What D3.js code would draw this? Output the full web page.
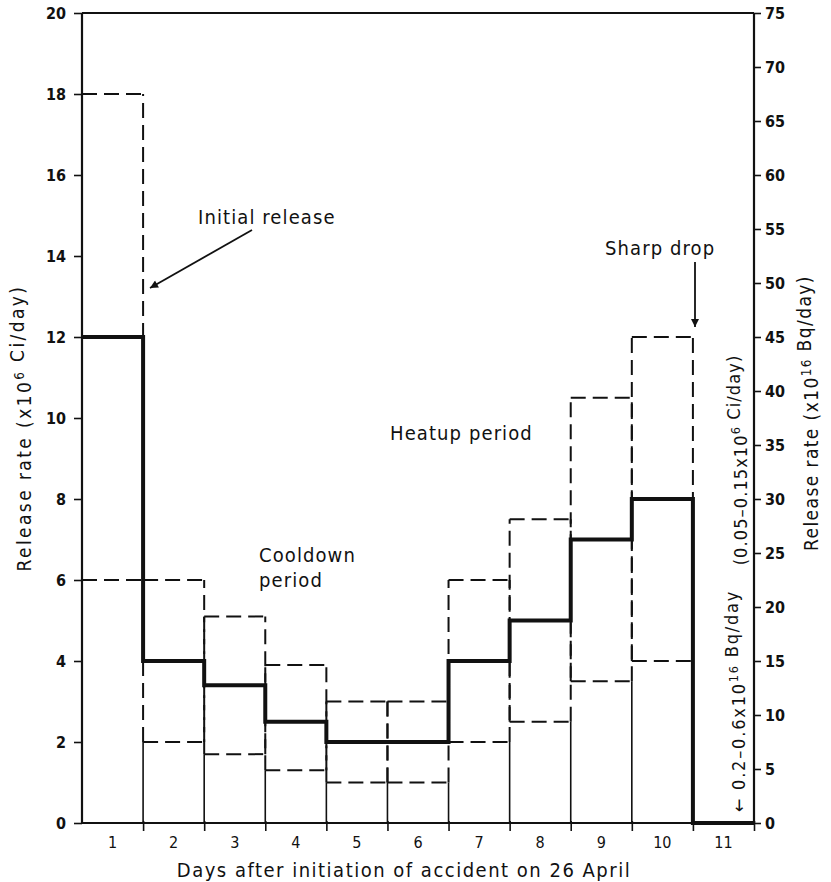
<!DOCTYPE html>
<html>
<head>
<meta charset="utf-8">
<script src="https://cdn.jsdelivr.net/npm/d3@7/dist/d3.min.js"></script>
<style>
  html, body { margin: 0; padding: 0; background: #fff; }
  svg { display: block; }
  text { font-family: "DejaVu Sans Condensed", "DejaVu Sans", sans-serif; font-stretch: condensed; fill: #111; }
</style>
</head>
<body>
<svg id="chart" width="831" height="882"></svg>
<script>
// ---- data ----
const days = [1, 2, 3, 4, 5, 6, 7, 8, 9, 10, 11];
const central = [12, 4, 3.4, 2.5, 2, 2, 4, 5, 7, 8, 0];
const upper = [18, 6, 5.1, 3.9, 3, 3, 6, 7.5, 10.5, 12, null];
const lower = [6, 2, 1.7, 1.3, 1, 1, 2, 2.5, 3.5, 4, null];
const leftTicks = [0, 2, 4, 6, 8, 10, 12, 14, 16, 18, 20];
const rightTicks = [0, 5, 10, 15, 20, 25, 30, 35, 40, 45, 50, 55, 60, 65, 70, 75];

const svg = d3.select("#chart");
const x = d3.scaleLinear().domain([0.5, 11.5]).range([82, 754]);
const yL = d3.scaleLinear().domain([0, 20]).range([823, 13]);
const yR = d3.scaleLinear().domain([0, 75]).range([823, 13]);

const ink = "#111";
const dash = "15,7";

// ---- thin solid verticals at boundaries (lower-bound bars) ----
for (let i = 1; i < days.length - 1; i++) {
  const a = lower[i - 1], b = lower[i];
  if (a == null || b == null) continue;
  const bx = x(days[i] - 0.5);
  svg.append("line").attr("x1", bx).attr("x2", bx)
    .attr("y1", yL(0)).attr("y2", yL(Math.min(a, b)))
    .attr("stroke", ink).attr("stroke-width", 1.6);
}

// ---- dashed uncertainty envelopes ----
days.forEach((d, i) => {
  if (upper[i] == null) return;
  const x0 = x(d - 0.5), x1 = x(d + 0.5);
  const g = svg.append("g").attr("fill", "none").attr("stroke", ink)
    .attr("stroke-width", 2).attr("stroke-dasharray", dash);
  g.append("line").attr("x1", x0).attr("x2", x1).attr("y1", yL(upper[i])).attr("y2", yL(upper[i]));
  g.append("line").attr("x1", x0).attr("x2", x1).attr("y1", yL(lower[i])).attr("y2", yL(lower[i]));
  if (i > 0) g.append("line").attr("x1", x0).attr("x2", x0).attr("y1", yL(lower[i])).attr("y2", yL(upper[i]));
  g.append("line").attr("x1", x1).attr("x2", x1).attr("y1", yL(lower[i])).attr("y2", yL(upper[i]));
});

// ---- central thick step line ----
const stepPts = [];
days.forEach((d, i) => {
  stepPts.push([x(d - 0.5), yL(central[i])]);
  stepPts.push([x(d + 0.5), yL(central[i])]);
});
svg.append("path").attr("d", d3.line()(stepPts))
  .attr("fill", "none").attr("stroke", ink).attr("stroke-width", 4)
  .attr("stroke-linejoin", "miter");

// ---- frame ----
const frame = svg.append("g").attr("stroke", ink).attr("stroke-width", 2.2).attr("fill", "none");
frame.append("line").attr("x1", x(0.5)).attr("x2", x(0.5)).attr("y1", yL(20)).attr("y2", yL(0));
frame.append("line").attr("x1", x(0.5)).attr("x2", x(11.5)).attr("y1", yL(20)).attr("y2", yL(20));
frame.append("line").attr("x1", x(11.5)).attr("x2", x(11.5)).attr("y1", yL(20)).attr("y2", yL(0));
frame.append("line").attr("x1", x(0.5)).attr("x2", x(11.5)).attr("y1", yL(0)).attr("y2", yL(0));

// ---- axes ----
const axL = svg.append("g").attr("transform", `translate(${x(0.5)},0)`)
  .call(d3.axisLeft(yL).tickValues(leftTicks).tickSize(8).tickPadding(8).tickFormat(d3.format("d")));
const axR = svg.append("g").attr("transform", `translate(${x(11.5)},0)`)
  .call(d3.axisRight(yR).tickValues(rightTicks).tickSize(7).tickPadding(4).tickFormat(d3.format("d")));
[axL, axR].forEach(a => {
  a.select(".domain").remove();
  a.selectAll(".tick line").attr("stroke", ink).attr("stroke-width", 1.6);
  a.selectAll(".tick text").attr("fill", ink).style("font-size", "16px").style("font-weight", "bold")
    .style("font-family", '"DejaVu Sans Condensed", "DejaVu Sans", sans-serif');
});

const bounds = days.map(d => d + 0.5);
const axB = svg.append("g").attr("transform", `translate(0,${yL(0)})`)
  .call(d3.axisBottom(x).tickValues(bounds).tickSize(8).tickFormat(""));
axB.select(".domain").remove();
axB.selectAll(".tick line").attr("stroke", ink).attr("stroke-width", 1.6).attr("y1", -2);

svg.append("g").selectAll("text").data(days).join("text")
  .attr("x", d => x(d)).attr("y", 848).attr("text-anchor", "middle")
  .style("font-size", "16px").text(d => d);

// ---- axis titles ----
svg.append("text").attr("x", 404).attr("y", 877).attr("text-anchor", "middle")
  .style("font-size", "20px").style("letter-spacing", "1.5px")
  .text("Days after initiation of accident on 26 April");

function rotLabel(cx, cy, parts, size, ls) {
  const t = svg.append("text").attr("transform", `translate(${cx},${cy}) rotate(-90)`)
    .attr("text-anchor", "middle").style("font-size", size + "px").style("letter-spacing", ls + "px");
  parts.forEach(p => {
    if (p.sup) {
      t.append("tspan").attr("dy", -7).style("font-size", (size * 0.7) + "px").text(p.t);
      t.append("tspan").attr("dy", 7).text("");
    } else {
      t.append("tspan").text(p.t);
    }
  });
  return t;
}
rotLabel(31, 428, [{t: "Release rate (x10"}, {t: "6", sup: true}, {t: " Ci/day)"}], 19, 2.4);
rotLabel(818, 413, [{t: "Release rate (x10"}, {t: "16", sup: true}, {t: " Bq/day)"}], 19, 1.4);
rotLabel(747, 460, [{t: "(0.05–0.15x10"}, {t: "6", sup: true}, {t: " Ci/day)"}], 18, 1.1);
rotLabel(745, 701, [{t: "← 0.2–0.6x10"}, {t: "16", sup: true}, {t: " Bq/day"}], 18, 1.8);

// ---- annotations ----
svg.append("defs").append("marker").attr("id", "arrow")
  .attr("viewBox", "0 0 10 10").attr("refX", 10).attr("refY", 5)
  .attr("markerWidth", 14).attr("markerHeight", 8).attr("markerUnits", "userSpaceOnUse")
  .attr("orient", "auto")
  .append("path").attr("d", "M0,0 L10,5 L0,10 Z").attr("fill", ink);

const noteStyle = sel => sel.style("font-size", "20px").style("letter-spacing", "1.1px");

svg.append("text").attr("x", 198).attr("y", 224).call(noteStyle).text("Initial release");
svg.append("line").attr("x1", 252).attr("y1", 230).attr("x2", 150).attr("y2", 288)
  .attr("stroke", ink).attr("stroke-width", 1.8).attr("marker-end", "url(#arrow)");

svg.append("text").attr("x", 605).attr("y", 255).call(noteStyle).text("Sharp drop");
svg.append("line").attr("x1", 695).attr("y1", 262).attr("x2", 695).attr("y2", 327)
  .attr("stroke", ink).attr("stroke-width", 1.8).attr("marker-end", "url(#arrow)");

svg.append("text").attr("x", 390).attr("y", 440).call(noteStyle).text("Heatup period");
svg.append("text").attr("x", 259).attr("y", 562).call(noteStyle).text("Cooldown");
svg.append("text").attr("x", 259).attr("y", 587).call(noteStyle).text("period");
</script>
</body>
</html>
